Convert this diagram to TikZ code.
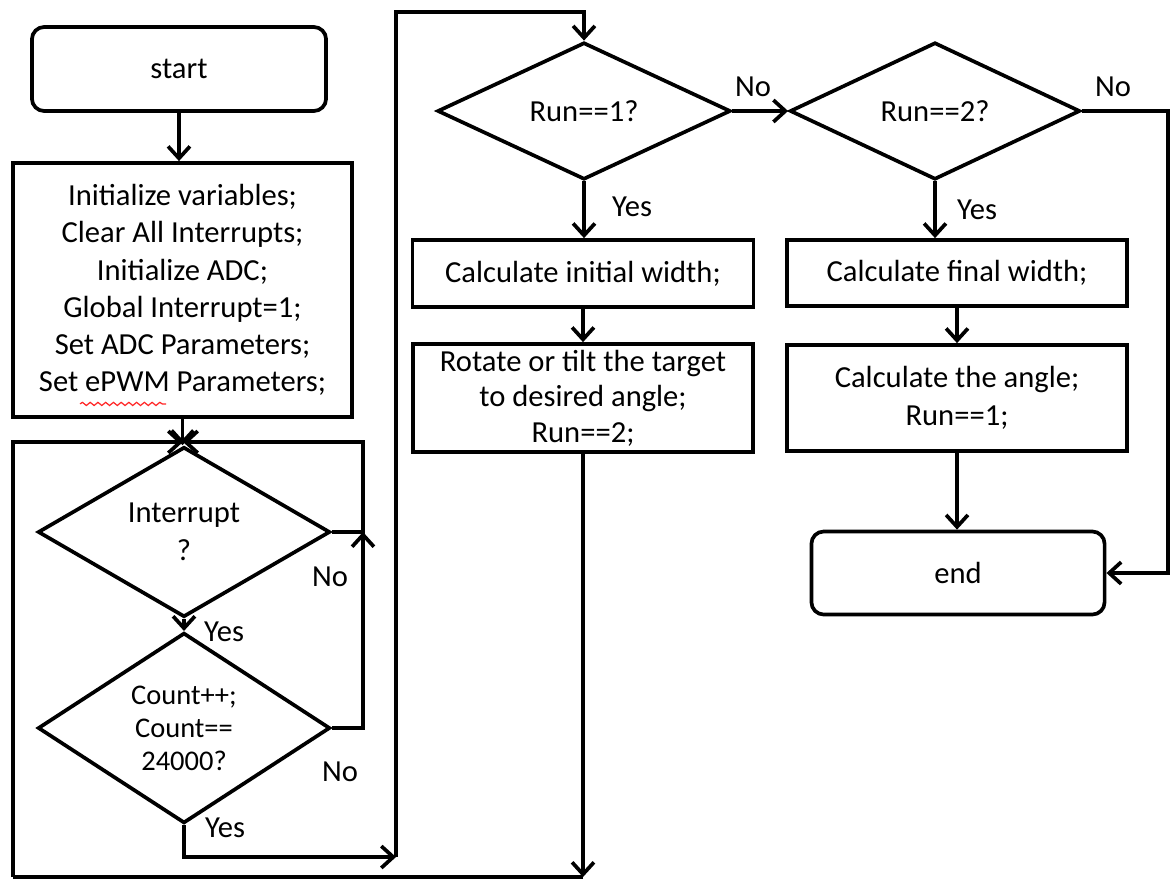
\documentclass[tikz,border=0pt]{standalone}
\usepackage{fontspec}
\setmainfont{Carlito}
\usetikzlibrary{shapes.geometric,arrows.meta,calc,decorations.pathmorphing}

\tikzset{
  every node/.style={font=\fontsize{8.7pt}{10.8pt}\selectfont, text=black},
  flow/.style={line width=1.05pt, draw=black},
  arr/.style={flow, -{Straight Barb[length=3.4pt,width=6.2pt,line width=1.05pt]}},
  terminal/.style={flow, rounded corners=3.5pt, inner sep=0pt, align=center},
  procbox/.style={flow, inner sep=0pt, align=center},
  decision/.style={flow, diamond, inner sep=0pt, align=center},
  lbl/.style={inner sep=0pt},
}

\begin{document}
\begin{tikzpicture}[x=0.01cm, y=-0.01cm]
  \useasboundingbox (0,0) rectangle (1174,882);

  % ---- left column: initialisation and counting loop ----
  \node[terminal, minimum width=2.94cm, minimum height=0.84cm] (start) at (179,69) {start};
  \node[procbox, minimum width=3.39cm, minimum height=2.54cm,
        font=\fontsize{8.7pt}{10.6pt}\selectfont] (init) at (182.5,290)
       {Initialize variables;\\Clear All Interrupts;\\Initialize ADC;\\Global Interrupt=1;\\Set ADC Parameters;\\Set ePWM Parameters;};
  \node[decision, minimum width=2.92cm, minimum height=1.36cm] (int) at (184,532)
       {Interrupt\\?};
  \node[decision, minimum width=2.92cm, minimum height=1.34cm,
        font=\fontsize{8.1pt}{9.4pt}\selectfont] (cnt) at (184,728)
       {Count++;\\Count==\\24000?};

  % ---- middle column ----
  \node[decision, minimum width=2.93cm, minimum height=1.37cm] (r1) at (584,111) {Run==1?};
  \node[procbox, minimum width=3.41cm, minimum height=0.67cm] (ciw) at (583,273.5)
       {Calculate initial width;};
  \node[procbox, minimum width=3.40cm, minimum height=1.08cm,
        font=\fontsize{8.7pt}{10.1pt}\selectfont] (rot) at (583,398)
       {Rotate or tilt the target\\to desired angle;\\Run==2;};

  % ---- right column ----
  \node[decision, minimum width=2.90cm, minimum height=1.37cm] (r2) at (935,111) {Run==2?};
  \node[procbox, minimum width=3.40cm, minimum height=0.66cm] (cfw) at (957,273)
       {Calculate final width;};
  \node[procbox, minimum width=3.40cm, minimum height=1.06cm] (cang) at (957,398)
       {Calculate the angle;\\Run==1;};
  \node[terminal, minimum width=2.93cm, minimum height=0.83cm] (end) at (958,573) {end};

  % ---- routing points ----
  \coordinate (J)  at (183,442);
  \coordinate (RT) at (363,442);
  \coordinate (RM) at (363,532);
  \coordinate (YB) at (396,857);
  \coordinate (YT) at (396,12);
  \coordinate (BB) at (583,877);
  \coordinate (BL) at (13,877);
  \coordinate (RR) at (1168,111);

  % ---- connectors ----
  \draw[arr] (start.south) -- (start.south |- init.north);
  \draw[arr] (init.south) -- (init.south |- int.north);
  \draw[arr] (BL) |- (J);
  \draw[arr] (int.east) -| (RT) -- (J);
  \draw[arr] (cnt.east) -| (RM);
  \draw[arr] (int.south) -- (cnt.north);
  \draw[arr] (cnt.south) |- (YB);
  \draw[arr] (YB) -- (YT) -| (r1.north);
  \draw[arr] (r1.east) -- (r2.west);
  \draw[arr] (r1.south) -- (r1.south |- ciw.north);
  \draw[arr] (ciw.south) -- (ciw.south |- rot.north);
  \draw[arr] (rot.south) -- (BB);
  \draw[flow] (BB) -- (BL);
  \draw[arr] (r2.south) -- (r2.south |- cfw.north);
  \draw[arr] (cfw.south) -- (cfw.south |- cang.north);
  \draw[arr] (cang.south) -- (cang.south |- end.north);
  \draw[arr] (r2.east) -- (RR) |- (end.east);

  % ---- branch labels ----
  \node[lbl] (yes1) at (224,632) {Yes};
  \node[lbl] (no1)  at (330,577) {No};
  \node[lbl] (no2)  at (340,772) {No};
  \node[lbl] (yes2) at (225,828) {Yes};
  \node[lbl] (no3)  at (753,87)  {No};
  \node[lbl] (yes3) at (632,207) {Yes};
  \node[lbl] (no4)  at (1113,87) {No};
  \node[lbl] (yes4) at (977,210) {Yes};

  % spell-check squiggle under "ePWM"
  \draw[red!85!white, line width=0.35pt, decorate,
        decoration={snake, amplitude=0.45pt, segment length=2.2pt}]
       ($(init.south west)+(69,-15)$) -- ($(init.south west)+(155,-15)$);
\end{tikzpicture}
\end{document}
